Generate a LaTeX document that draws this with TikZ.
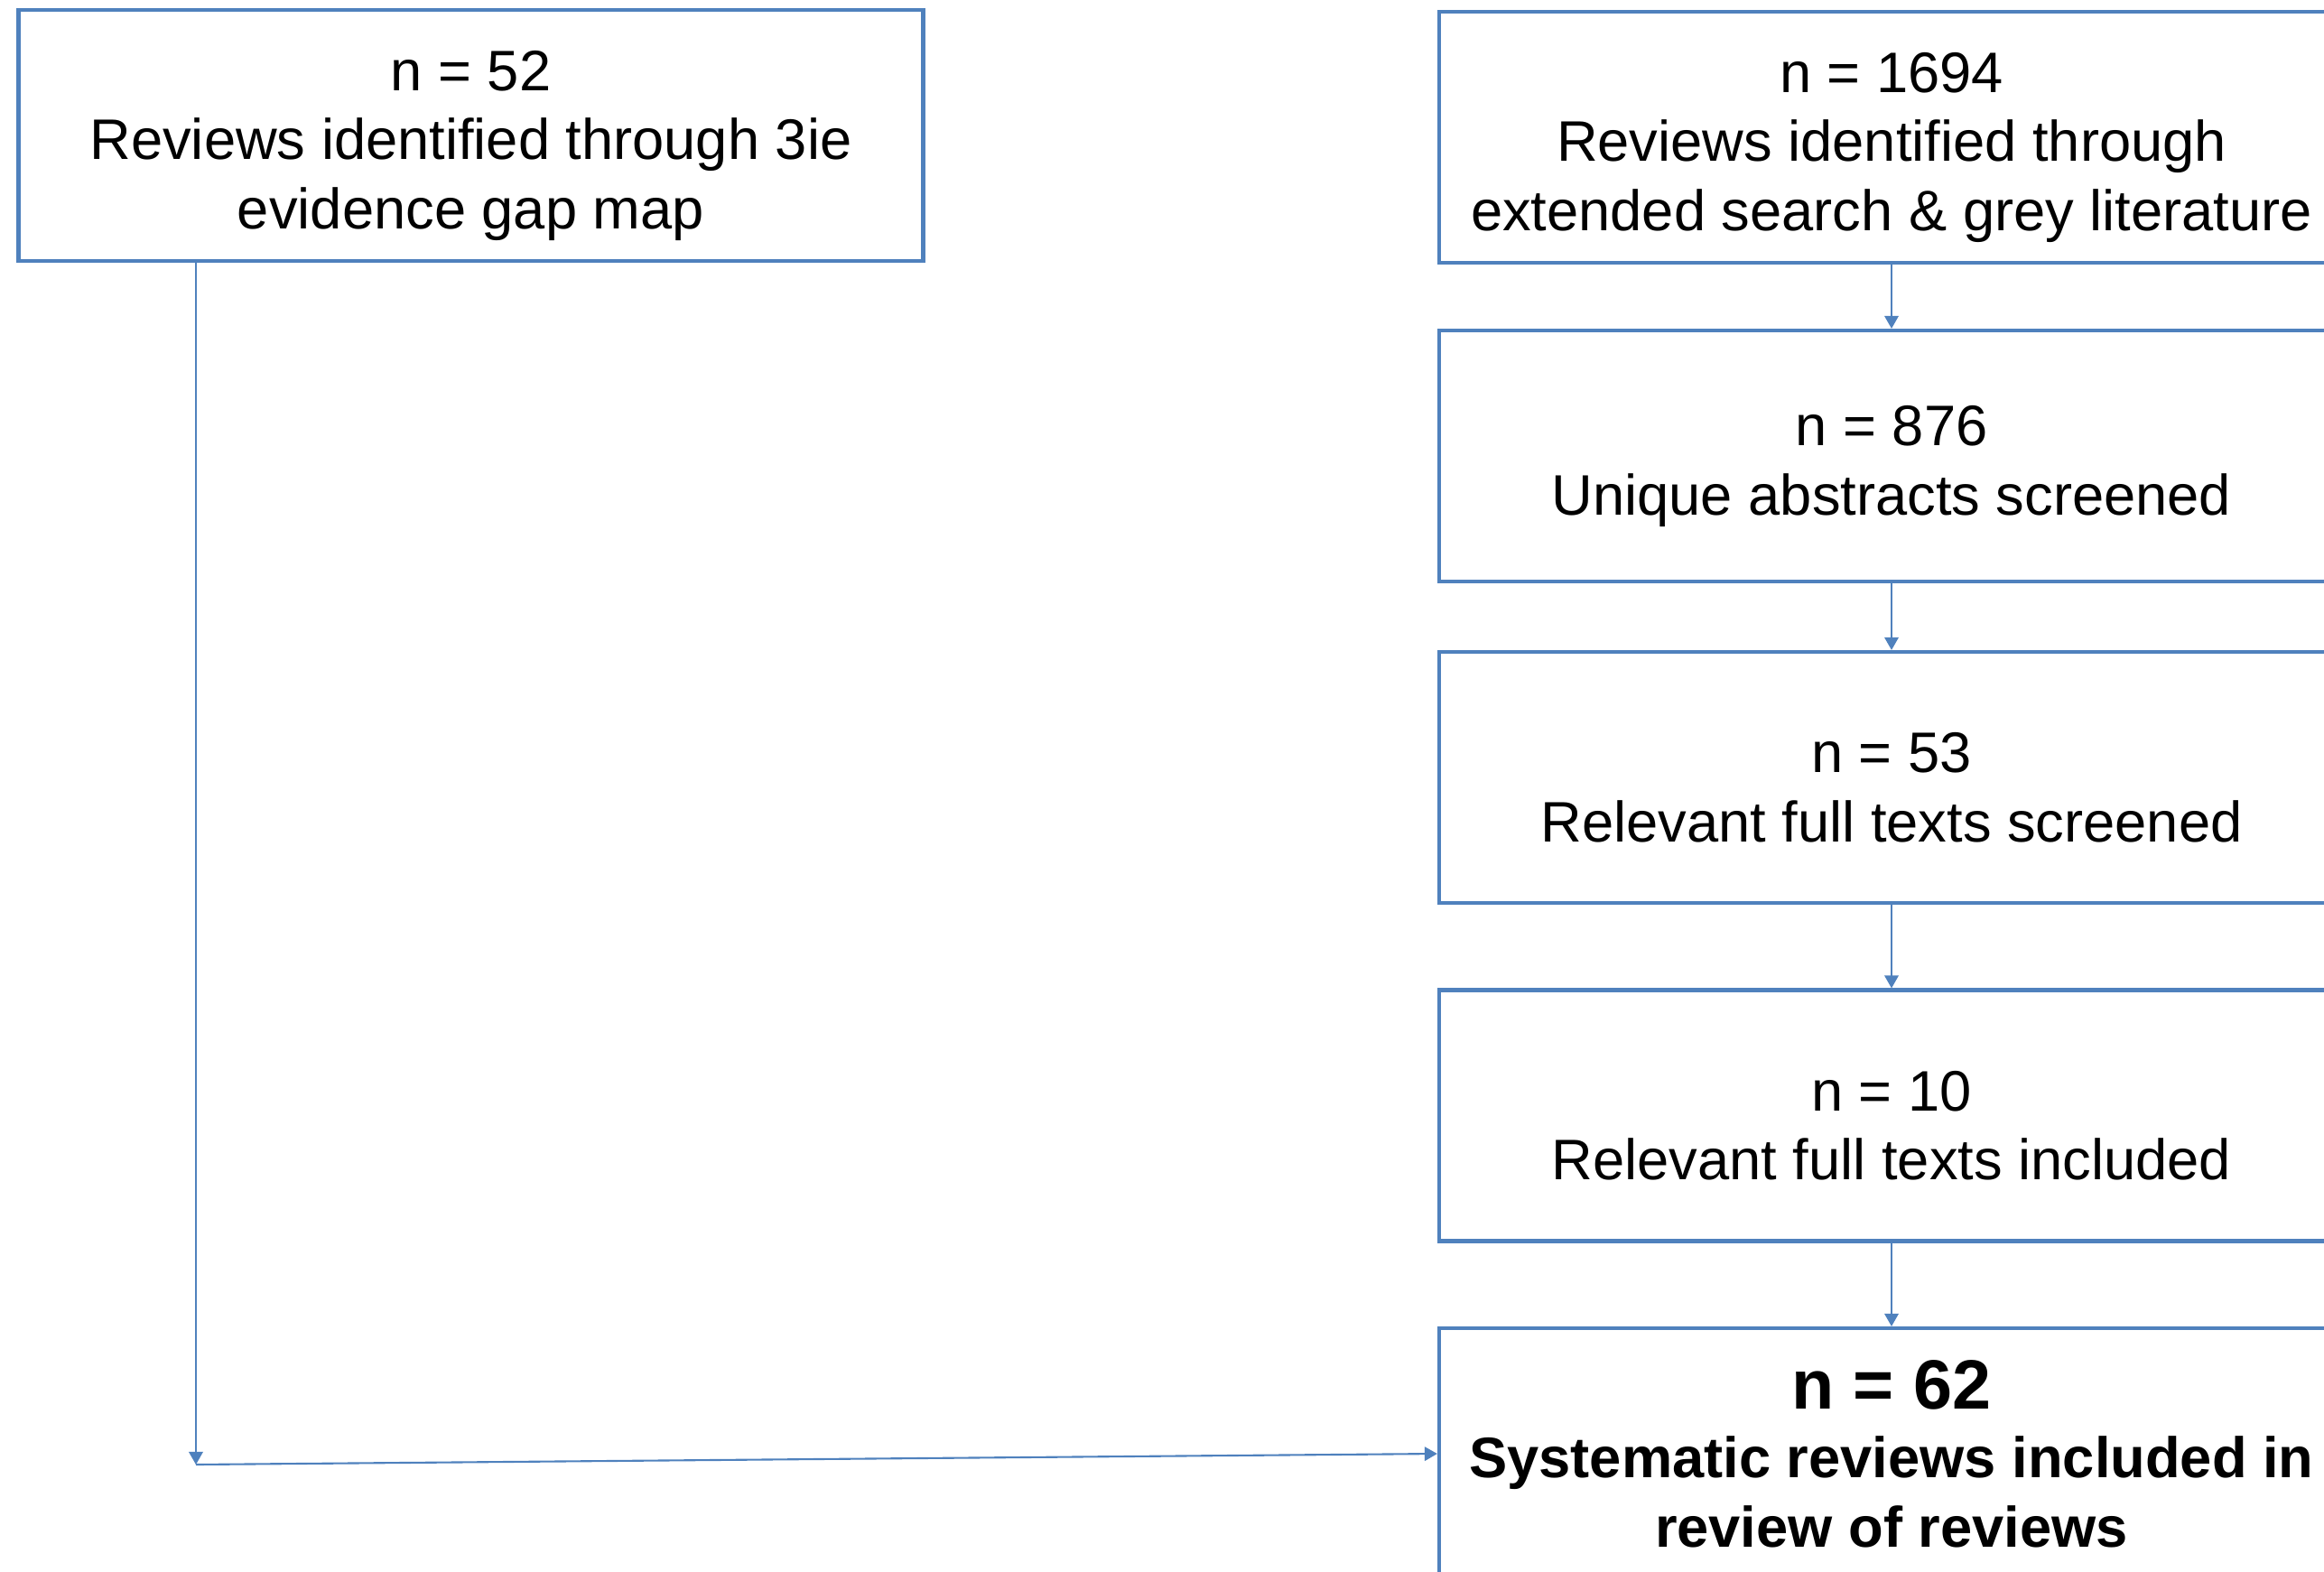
\documentclass[tikz,border=0pt]{standalone}
\usepackage{fontspec}
\setmainfont{Liberation Sans}
\usetikzlibrary{arrows.meta, calc}

\definecolor{boxblue}{RGB}{79,129,189}
% extra room above the first line, pushes each text block a little down
\newcommand{\topgap}{\rule{0pt}{19pt}}

\begin{document}
\begin{tikzpicture}[
  >={Triangle[length=4pt, width=4.4pt]},
  % all stages share one fixed box size
  stage/.style={rectangle, draw=boxblue, line width=1.2pt, minimum width=10.02cm, minimum height=2.78cm, inner sep=0pt, align=center, font=\fontsize{18}{21.8}\selectfont},
  flow/.style={->, draw=boxblue, line width=0.6pt}
]
\useasboundingbox (0,0) rectangle (25.74,-17.40);
\clip (0,0) rectangle (25.74,-17.40);

% Left source: gap map
\node[stage] (gapmap) at (5.215,-1.50) {\topgap n = 52\\Reviews identified through 3ie\\evidence gap map};

% Right column: search and screening
\node[stage] (search) at (20.95,-1.52) {\topgap n = 1694\\Reviews identified through\\extended search \& grey literature};
\node[stage] (abstracts) at (20.95,-5.05) {\topgap n = 876\\Unique abstracts screened};
\node[stage] (fulltexts) at (20.95,-8.61) {\topgap n = 53\\Relevant full texts screened};
\node[stage] (included) at (20.95,-12.355) {\topgap n = 10\\Relevant full texts included};

% Final set (runs off the page)
\node[stage, font=\bfseries\fontsize{18}{21.8}\selectfont] (final) at (20.95,-16.10) {{\fontsize{22}{26}\selectfont n = 62}\\Systematic reviews included in\\review of reviews};

% Connect right column
\draw[flow] (search) -- (abstracts);
\draw[flow] (abstracts) -- (fulltexts);
\draw[flow] (fulltexts) -- (included);
\draw[flow] (included) -- (final);

% Gap map goes down, then across to the final set
\coordinate (corner) at (2.17,-16.22);
\draw[flow] (gapmap.south -| corner) -- (corner);
\draw[flow] (corner) -- (final.west);

\end{tikzpicture}
\end{document}
